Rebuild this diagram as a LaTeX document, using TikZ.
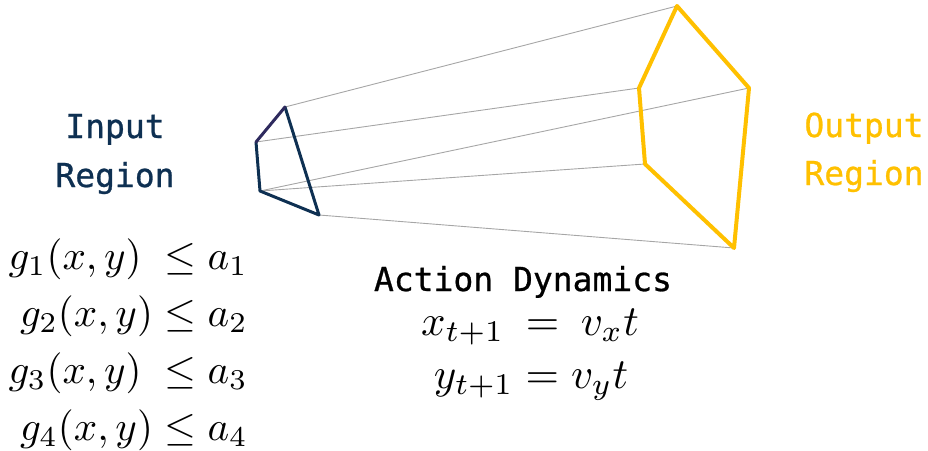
\documentclass[tikz,border=0pt]{standalone}
\usepackage{fontspec}
\newfontfamily\labelfont[FakeBold=0.8]{DejaVu Sans Mono}
\definecolor{navyin}{RGB}{14,48,82}
\definecolor{purpin}{RGB}{46,42,94}
\definecolor{yellowout}{RGB}{255,192,0}
\newcommand{\bigeq}[1]{\scalebox{4.1}{$#1$}}
\newcommand{\dyneq}[1]{\scalebox{4.3}{$#1$}}
\tikzset{
  ray/.style={draw=black!35, line width=0.9pt},
  inpoly/.style={draw=navyin, line width=3pt, line join=round, line cap=round},
  outpoly/.style={draw=yellowout, line width=4pt, line join=round, line cap=round},
  lbl/.style={font=\labelfont\fontsize{33}{38}\selectfont, inner sep=0pt, anchor=base},
  eqn/.style={inner sep=0pt}
}
\begin{document}
\begin{tikzpicture}[x=1pt,y=-1pt]
\useasboundingbox (0,0) rectangle (928,450);
% input region vertices
\coordinate (it) at (285,107);
\coordinate (ilt) at (256,142);
\coordinate (ilb) at (260,191);
\coordinate (ib) at (319,215);
% output region vertices
\coordinate (ot) at (677,6);
\coordinate (or) at (749,88);
\coordinate (ob) at (734,248);
\coordinate (olb) at (645,164);
\coordinate (olt) at (639,88);
% rays
\draw[ray] (it) -- (ot);
\draw[ray] (ilt) -- (olt);
\draw[ray] (ilb) -- (or);
\draw[ray] (ilb) -- (olb);
\draw[ray] (ib) -- (ob);
% polygons
\draw[inpoly] (ilt) -- (ilb) -- (ib) -- (it);
\draw[inpoly, draw=purpin] (it) -- (ilt);
\draw[outpoly] (ot) -- (or) -- (ob) -- (olb) -- (olt) -- cycle;
% labels
\node[lbl, text=navyin] (inA) at (115,138) {Input};
\node[lbl, text=navyin] (inB) at (115,187) {Region};
\node[lbl, text=yellowout] (outA) at (864,137) {Output};
\node[lbl, text=yellowout] (outB) at (864,185) {Region};
\node[lbl] (act) at (523,291) {Action Dynamics};
% constraint equations
\node[eqn, anchor=base east] (c1) at (248,269) {\bigeq{g_1(x,y)\;\leq a_1}};
\node[eqn, anchor=base east] (c2) at (248,326) {\bigeq{g_2(x,y)\leq a_2}};
\node[eqn, anchor=base east] (c3) at (248,383) {\bigeq{g_3(x,y)\;\leq a_3}};
\node[eqn, anchor=base east] (c4) at (248,440) {\bigeq{g_4(x,y)\leq a_4}};
% dynamics equations
\node[eqn, anchor=base] (d1) at (530,335) {\dyneq{x_{t+1}\mkern4mu=\mkern4mu v_x t}};
\node[eqn, anchor=base] (d2) at (531,388) {\dyneq{y_{t+1}=v_y t}};
\end{tikzpicture}
\end{document}
